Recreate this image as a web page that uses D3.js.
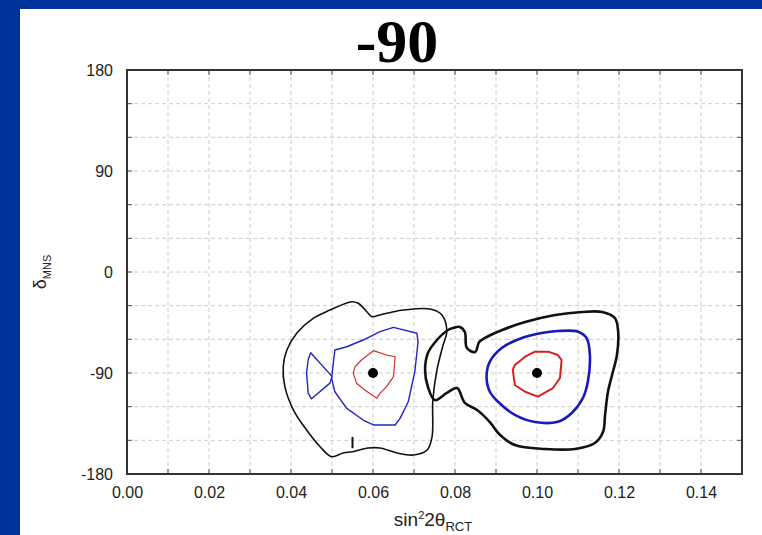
<!DOCTYPE html>
<html>
<head>
<meta charset="utf-8">
<script src="https://cdn.jsdelivr.net/npm/d3@7"></script>
<style>
  body { margin: 0; background: #fff; }
  svg { display: block; }
</style>
</head>
<body>
<script>
// chart data: contours in (sin^2 2theta, delta) units
const titleText = '-90';
const xTicks = [0, 0.02, 0.04, 0.06, 0.08, 0.10, 0.12, 0.14];
const yTicks = [-180, -90, 0, 90, 180];
const bestFit = [[0.06, -90], [0.10, -90]];

const leftBlack = [
  [0.0548, -26.5], [0.0564, -27.9], [0.0585, -35.4], [0.0597, -39.8], [0.0617, -38.3],
  [0.0650, -35.4], [0.0674, -33.9], [0.0739, -33.0], [0.0768, -38.3], [0.0780, -53.2],
  [0.0771, -65.1], [0.0756, -87.3], [0.0746, -114.1], [0.0744, -147.0], [0.0732, -158.6],
  [0.0698, -163.1], [0.0659, -161.3], [0.0617, -156.8], [0.0588, -156.8], [0.0551, -160.1],
  [0.0527, -161.3], [0.0499, -164.6], [0.0471, -155.7], [0.0438, -140.8], [0.0406, -123.0],
  [0.0385, -102.2], [0.0381, -84.4], [0.0390, -69.5], [0.0414, -54.6], [0.0454, -41.3],
  [0.0495, -33.9]
];
const leftSpike = [[0.0550, -147], [0.0550, -157]];
const leftBlue = [
  [0.0499, -94.5], [0.0507, -69.5], [0.0536, -66.6], [0.0576, -60.6], [0.0617, -53.2],
  [0.0650, -49.3], [0.0707, -54.6], [0.0710, -62.1], [0.0702, -88.8], [0.0686, -115.6],
  [0.0666, -130.4], [0.0654, -136.3], [0.0601, -136.3], [0.0576, -131.9], [0.0536, -121.5],
  [0.0507, -106.7]
];
const leftBlueLobe = [
  [0.0448, -72], [0.0442, -78], [0.0438, -90], [0.0442, -108], [0.0450, -113],
  [0.0495, -99], [0.0500, -93]
];
const leftRed = [
  [0.0552, -90.3], [0.0556, -84.4], [0.0572, -78.4], [0.0601, -70.1], [0.0633, -74.0],
  [0.0654, -75.5], [0.0650, -93.3], [0.0633, -102.2], [0.0617, -108.1], [0.0609, -112.6],
  [0.0580, -105.2], [0.0560, -99.2]
];
const rightBlack = [
  [0.0795, -49.9], [0.0812, -49.0], [0.0824, -53.5], [0.0829, -67.7], [0.0849, -71.3],
  [0.0859, -62.4], [0.0873, -58.8], [0.0915, -51.7], [0.0971, -44.6], [0.1044, -38.3],
  [0.1110, -35.6], [0.1159, -35.6], [0.1190, -41.0], [0.1198, -53.5], [0.1195, -74.0],
  [0.1185, -89.1], [0.1173, -106.9], [0.1166, -127.4], [0.1161, -142.6], [0.1141, -152.4],
  [0.1093, -157.7], [0.1020, -157.7], [0.0946, -154.2], [0.0910, -145.3], [0.0885, -133.7],
  [0.0854, -123.0], [0.0824, -116.7], [0.0805, -103.4], [0.0780, -107.8], [0.0751, -114.1],
  [0.0734, -102.5], [0.0727, -87.3], [0.0734, -72.2], [0.0756, -60.6], [0.0783, -51.7]
];
const rightBlue = [
  [0.0877, -93.3], [0.0885, -79.9], [0.0914, -67.7], [0.0963, -58.8], [0.1011, -54.4],
  [0.1051, -52.6], [0.1100, -53.2], [0.1121, -58.8], [0.1129, -74.0], [0.1124, -97.8],
  [0.1112, -112.3], [0.1085, -125.6], [0.1051, -133.4], [0.0995, -133.7], [0.0946, -127.4],
  [0.0905, -115.6], [0.0885, -106.7]
];
const rightRed = [
  [0.0941, -87.3], [0.0946, -82.9], [0.0971, -75.5], [0.0995, -71.0], [0.1027, -71.0],
  [0.1051, -74.0], [0.1060, -78.4], [0.1056, -94.5], [0.1039, -103.4], [0.1002, -111.1],
  [0.0971, -106.7], [0.0946, -100.7]
];

const W = 762, H = 535;
const plotL = 127, plotR = 742, plotT = 70, plotB = 474;

const svg = d3.select('body').append('svg')
  .attr('width', W)
  .attr('height', H);

// slide frame
svg.append('rect').attr('width', W).attr('height', H).attr('fill', '#003399');
svg.append('rect').attr('x', 20).attr('y', 9).attr('width', W - 20).attr('height', H - 9).attr('fill', '#fff');

svg.append('text')
  .attr('x', 397).attr('y', 62)
  .attr('text-anchor', 'middle')
  .style('font-family', '"Liberation Serif", "Times New Roman", serif')
  .style('font-weight', 'bold')
  .style('font-size', '62px')
  .attr('fill', '#000')
  .text(titleText);

const x = d3.scaleLinear().domain([0, 0.15]).range([plotL, plotR]);
const y = d3.scaleLinear().domain([-180, 180]).range([plotB, plotT]);

const xGrid = d3.range(1, 15).map(i => i / 100);
const yGrid = d3.range(-150, 180, 30);

// dashed grid
svg.append('g')
  .selectAll('line')
  .data(xGrid)
  .join('line')
    .attr('x1', d => x(d)).attr('x2', d => x(d))
    .attr('y1', plotT).attr('y2', plotB)
    .attr('stroke', '#cccccc')
    .attr('stroke-dasharray', '4,3');

svg.append('g')
  .selectAll('line')
  .data(yGrid)
  .join('line')
    .attr('y1', d => y(d)).attr('y2', d => y(d))
    .attr('x1', plotL).attr('x2', plotR)
    .attr('stroke', '#cccccc')
    .attr('stroke-dasharray', '4,3');

// axes with inward ticks
const tickFont = '"Liberation Sans", Arial, sans-serif';

const xAxis = svg.append('g')
  .attr('transform', `translate(0,${plotB})`)
  .call(d3.axisBottom(x).tickValues(xTicks).tickFormat(d => d.toFixed(2)).tickSize(0).tickPadding(13));
const yAxis = svg.append('g')
  .attr('transform', `translate(${plotL},0)`)
  .call(d3.axisLeft(y).tickValues(yTicks).tickFormat(d => String(d)).tickSize(0).tickPadding(14));

[xAxis, yAxis].forEach(g => {
  g.select('.domain').remove();
  g.selectAll('text')
    .style('font-family', tickFont)
    .style('font-size', '16px')
    .attr('fill', '#222');
});

const minorX = d3.range(0, 16).map(i => i / 100);
const minorY = d3.range(-180, 181, 30);
const ticks = svg.append('g').attr('stroke', '#555').attr('stroke-width', 1);
minorX.forEach(v => {
  ticks.append('line').attr('x1', x(v)).attr('x2', x(v)).attr('y1', plotB).attr('y2', plotB - 5);
  ticks.append('line').attr('x1', x(v)).attr('x2', x(v)).attr('y1', plotT).attr('y2', plotT + 5);
});
minorY.forEach(v => {
  ticks.append('line').attr('y1', y(v)).attr('y2', y(v)).attr('x1', plotL).attr('x2', plotL + 5);
  ticks.append('line').attr('y1', y(v)).attr('y2', y(v)).attr('x1', plotR).attr('x2', plotR - 5);
});

// contours
const smooth = d3.line().x(d => x(d[0])).y(d => y(d[1])).curve(d3.curveCatmullRomClosed.alpha(0.5));
const poly = d3.line().x(d => x(d[0])).y(d => y(d[1])).curve(d3.curveLinearClosed);
const open = d3.line().x(d => x(d[0])).y(d => y(d[1]));

const contours = [
  { pts: leftBlack, gen: smooth, color: '#111', w: 1.6 },
  { pts: leftBlue, gen: poly, color: '#2323c8', w: 1.4 },
  { pts: leftBlueLobe, gen: poly, color: '#2323c8', w: 1.4 },
  { pts: leftRed, gen: poly, color: '#d03030', w: 1.2 },
  { pts: rightBlack, gen: smooth, color: '#111', w: 2.6 },
  { pts: rightBlue, gen: smooth, color: '#1a1ab8', w: 2.6 },
  { pts: rightRed, gen: poly, color: '#d82020', w: 2 }
];

svg.append('g')
  .attr('fill', 'none')
  .attr('stroke-linejoin', 'round')
  .selectAll('path')
  .data(contours)
  .join('path')
    .attr('d', d => d.gen(d.pts))
    .attr('stroke', d => d.color)
    .attr('stroke-width', d => d.w);

svg.append('path')
  .attr('d', open(leftSpike))
  .attr('stroke', '#111')
  .attr('stroke-width', 2)
  .attr('fill', 'none');

svg.append('g')
  .selectAll('circle')
  .data(bestFit)
  .join('circle')
    .attr('cx', d => x(d[0]))
    .attr('cy', d => y(d[1]))
    .attr('r', 5)
    .attr('fill', '#000');

// frame
svg.append('rect')
  .attr('x', plotL).attr('y', plotT)
  .attr('width', plotR - plotL).attr('height', plotB - plotT)
  .attr('fill', 'none')
  .attr('stroke', '#333')
  .attr('stroke-width', 2);

// axis titles
const yLab = svg.append('text')
  .attr('transform', 'translate(46,272) rotate(-90)')
  .attr('text-anchor', 'middle')
  .style('font-family', tickFont)
  .style('font-size', '18px')
  .attr('fill', '#222');
yLab.append('tspan').text('δ');
yLab.append('tspan').attr('dy', 5).style('font-size', '11px').text('MNS');

const xLab = svg.append('text')
  .attr('x', 433).attr('y', 526)
  .attr('text-anchor', 'middle')
  .style('font-family', tickFont)
  .style('font-size', '19px')
  .attr('fill', '#222');
xLab.append('tspan').text('sin');
xLab.append('tspan').attr('dy', -7).style('font-size', '11px').text('2');
xLab.append('tspan').attr('dy', 7).text('2θ');
xLab.append('tspan').attr('dy', 5).style('font-size', '13px').text('RCT');
</script>
</body>
</html>
